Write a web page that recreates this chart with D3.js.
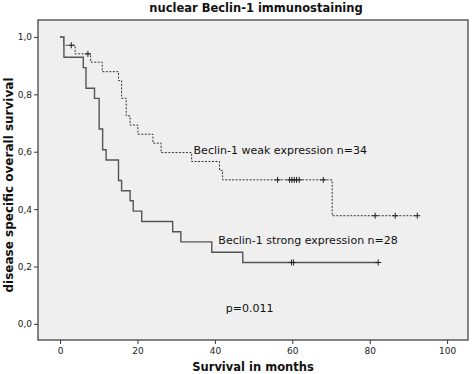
<!DOCTYPE html>
<html>
<head>
<meta charset="utf-8">
<script src="https://cdn.jsdelivr.net/npm/d3@7"></script>
<style>
  body { margin: 0; background: #fff; }
  text { font-family: "DejaVu Sans", sans-serif; fill: #111; }
  .tick text { font-size: 9px; fill: #222; }
  .title { font-weight: bold; font-size: 11.5px; }
  .axis-label { font-weight: bold; font-size: 11.5px; }
  .y-label { font-weight: bold; font-size: 12px; }
  .curve-label { font-size: 11px; }
</style>
</head>
<body>
<div id="wrapper"></div>
<script>
// strong Beclin-1 expression (solid line), step times and survival
const strongTimes = [0, 1, 6, 6.7, 8.9, 10.1, 11, 11.9, 15.1, 15.9, 18.1, 18.9, 21.1, 29.1, 31.2, 39.2, 47.2]
const strongSurv = [1, .929, .893, .821, .786, .679, .607, .571, .5, .464, .429, .393, .357, .321, .286, .25, .214]
const strongEnd = 82.2
const strongCensored = [59.8, 60.3, 82.2]

// weak Beclin-1 expression (dashed line)
const weakTimes = [0, 0.9, 3.9, 7.9, 10.9, 15.1, 15.9, 17.1, 18.1, 20.1, 24, 26.1, 34, 41.2, 42, 70.3]
const weakSurv = [1, .971, .941, .912, .879, .848, .786, .725, .693, .661, .63, .597, .566, .535, .502, .377]
const weakEnd = 92.3
const weakCensored = [2.9, 7.2, 56.2, 59.3, 59.9, 60.5, 61.1, 61.8, 68.0, 81.4, 86.6, 92.3]

const xTicks = [0, 20, 40, 60, 80, 100]
const yTicks = [0, 0.2, 0.4, 0.6, 0.8, 1.0]

const dimensions = {
  width: 472,
  height: 374,
  margin: { top: 20, right: 4, bottom: 34, left: 38 },
}
dimensions.boundedWidth = dimensions.width - dimensions.margin.left - dimensions.margin.right
dimensions.boundedHeight = dimensions.height - dimensions.margin.top - dimensions.margin.bottom

const wrapper = d3.select("#wrapper")
  .append("svg")
  .attr("width", dimensions.width)
  .attr("height", dimensions.height)

const bounds = wrapper.append("g")
  .attr("transform", `translate(${dimensions.margin.left},${dimensions.margin.top})`)

// the frame reaches a little past the tick range on every side
const xScale = d3.scaleLinear()
  .domain([-5.7, 105.4])
  .range([0, dimensions.boundedWidth])
const yScale = d3.scaleLinear()
  .domain([-0.056, 1.059])
  .range([dimensions.boundedHeight, 0])

bounds.append("rect")
  .attr("width", dimensions.boundedWidth)
  .attr("height", dimensions.boundedHeight)
  .attr("fill", "#efefef")

const fmt = d => d3.format(".1f")(d).replace(".", ",")

const xAxis = bounds.append("g")
  .attr("transform", `translate(0,${dimensions.boundedHeight})`)
  .call(d3.axisBottom(xScale).tickValues(xTicks).tickSize(4).tickPadding(4))
const yAxis = bounds.append("g")
  .call(d3.axisLeft(yScale).tickValues(yTicks).tickFormat(fmt).tickSize(4).tickPadding(2))
xAxis.select(".domain").remove()
yAxis.select(".domain").remove()
bounds.selectAll(".tick line").attr("stroke", "#333")

bounds.append("rect")
  .attr("width", dimensions.boundedWidth)
  .attr("height", dimensions.boundedHeight)
  .attr("fill", "none")
  .attr("stroke", "#444")
  .attr("stroke-width", 1.3)

const lineGenerator = d3.line()
  .x(d => xScale(d[0]))
  .y(d => yScale(d[1]))
  .curve(d3.curveStepAfter)

function stepPoints(times, surv, end) {
  const pts = times.map((t, i) => [t, surv[i]])
  pts.push([end, surv[surv.length - 1]])
  return pts
}
function survAt(times, surv, t) {
  let s = surv[0]
  times.forEach((tt, i) => { if (tt <= t) s = surv[i] })
  return s
}

const groups = [
  { times: weakTimes, surv: weakSurv, end: weakEnd, cens: weakCensored, dash: "2,1.5", color: "#333", width: 1 },
  { times: strongTimes, surv: strongSurv, end: strongEnd, cens: strongCensored, dash: null, color: "#555", width: 1.4 },
]

groups.forEach(g => {
  bounds.append("path")
    .attr("d", lineGenerator(stepPoints(g.times, g.surv, g.end)))
    .attr("fill", "none")
    .attr("stroke", g.color)
    .attr("stroke-width", g.width)
    .attr("stroke-dasharray", g.dash)
  bounds.selectAll(null)
    .data(g.cens)
    .enter().append("path")
    .attr("d", t => {
      const x = xScale(t), y = yScale(survAt(g.times, g.surv, t))
      return `M${x - 3},${y}H${x + 3}M${x},${y - 3}V${y + 3}`
    })
    .attr("stroke", "#222")
    .attr("stroke-width", 1)
})

bounds.append("text")
  .attr("class", "curve-label")
  .attr("x", xScale(34.5))
  .attr("y", yScale(0.592))
  .text("Beclin-1 weak expression n=34")
bounds.append("text")
  .attr("class", "curve-label")
  .attr("x", xScale(40.9))
  .attr("y", yScale(0.28))
  .text("Beclin-1 strong expression n=28")
bounds.append("text")
  .attr("class", "curve-label")
  .attr("x", xScale(42.8))
  .attr("y", yScale(0.04))
  .text("p=0.011")

wrapper.append("text")
  .attr("class", "title")
  .attr("x", 256)
  .attr("y", 12)
  .attr("text-anchor", "middle")
  .text("nuclear Beclin-1 immunostaining")
wrapper.append("text")
  .attr("class", "axis-label")
  .attr("x", 253)
  .attr("y", 371)
  .attr("text-anchor", "middle")
  .text("Survival in months")
wrapper.append("text")
  .attr("class", "y-label")
  .attr("transform", "translate(13,185) rotate(-90)")
  .attr("text-anchor", "middle")
  .text("disease specific overall survival")
</script>
</body>
</html>
